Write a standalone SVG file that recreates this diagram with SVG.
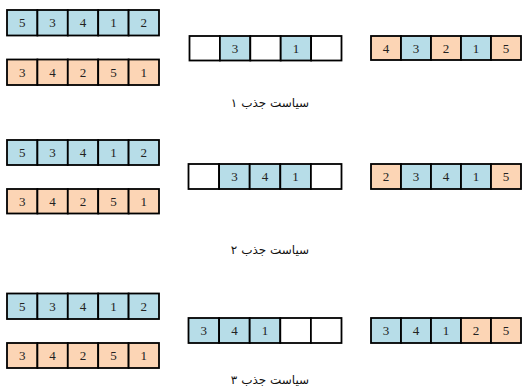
<svg xmlns="http://www.w3.org/2000/svg" width="522" height="388" viewBox="0 0 522 388">
<style>
rect{stroke:#000;stroke-width:1.8}
.b{fill:#b7dde8}
.o{fill:#fcd5b5}
.w{fill:#fff}
text{font-family:'Liberation Serif','Times New Roman',serif;font-size:13px;fill:#222;text-anchor:middle}
.lbl{font-family:'DejaVu Sans','Noto Sans',sans-serif;font-size:12px;fill:#111}
</style>
<rect width="522" height="388" style="fill:#fff;stroke:none"/>
<g id="row1-p1">
<rect class="b" x="7" y="10" width="30.4" height="25.5"/><rect class="b" x="37.4" y="10" width="30.4" height="25.5"/><rect class="b" x="67.8" y="10" width="30.4" height="25.5"/><rect class="b" x="98.2" y="10" width="30.4" height="25.5"/><rect class="b" x="128.6" y="10" width="30.4" height="25.5"/>
<text x="22.2" y="27">5</text><text x="52.6" y="27">3</text><text x="83" y="27">4</text><text x="113.4" y="27">1</text><text x="143.8" y="27">2</text>
</g>
<g id="row1-p2">
<rect class="o" x="7" y="59.5" width="30.4" height="25.5"/><rect class="o" x="37.4" y="59.5" width="30.4" height="25.5"/><rect class="o" x="67.8" y="59.5" width="30.4" height="25.5"/><rect class="o" x="98.2" y="59.5" width="30.4" height="25.5"/><rect class="o" x="128.6" y="59.5" width="30.4" height="25.5"/>
<text x="22.2" y="76.5">3</text><text x="52.6" y="76.5">4</text><text x="83" y="76.5">2</text><text x="113.4" y="76.5">5</text><text x="143.8" y="76.5">1</text>
</g>
<g id="row1-mid">
<rect class="w" x="189.5" y="36" width="30.4" height="24.5"/><rect class="b" x="219.9" y="36" width="30.4" height="24.5"/><rect class="w" x="250.3" y="36" width="30.4" height="24.5"/><rect class="b" x="280.7" y="36" width="30.4" height="24.5"/><rect class="w" x="311.1" y="36" width="30.4" height="24.5"/>
<text x="235.1" y="52.5">3</text><text x="295.9" y="52.5">1</text>
</g>
<g id="row1-child">
<rect class="o" x="371" y="36" width="30" height="24"/><rect class="b" x="401" y="36" width="30" height="24"/><rect class="o" x="431" y="36" width="30" height="24"/><rect class="b" x="461" y="36" width="30" height="24"/><rect class="o" x="491" y="36" width="30" height="24"/>
<text x="386" y="52.5">4</text><text x="416" y="52.5">3</text><text x="446" y="52.5">2</text><text x="476" y="52.5">1</text><text x="506" y="52.5">5</text>
</g>
<text class="lbl" x="270" y="107">سیاست جذب ۱</text>

<g id="row2-p1">
<rect class="b" x="7" y="140" width="30.4" height="25"/><rect class="b" x="37.4" y="140" width="30.4" height="25"/><rect class="b" x="67.8" y="140" width="30.4" height="25"/><rect class="b" x="98.2" y="140" width="30.4" height="25"/><rect class="b" x="128.6" y="140" width="30.4" height="25"/>
<text x="22.2" y="156.5">5</text><text x="52.6" y="156.5">3</text><text x="83" y="156.5">4</text><text x="113.4" y="156.5">1</text><text x="143.8" y="156.5">2</text>
</g>
<g id="row2-p2">
<rect class="o" x="7" y="189" width="30.4" height="24.5"/><rect class="o" x="37.4" y="189" width="30.4" height="24.5"/><rect class="o" x="67.8" y="189" width="30.4" height="24.5"/><rect class="o" x="98.2" y="189" width="30.4" height="24.5"/><rect class="o" x="128.6" y="189" width="30.4" height="24.5"/>
<text x="22.2" y="205.5">3</text><text x="52.6" y="205.5">4</text><text x="83" y="205.5">2</text><text x="113.4" y="205.5">5</text><text x="143.8" y="205.5">1</text>
</g>
<g id="row2-mid">
<rect class="w" x="188.5" y="164" width="30.6" height="25"/><rect class="b" x="219.1" y="164" width="30.6" height="25"/><rect class="b" x="249.7" y="164" width="30.6" height="25"/><rect class="b" x="280.3" y="164" width="30.6" height="25"/><rect class="w" x="310.9" y="164" width="30.6" height="25"/>
<text x="234.4" y="180.5">3</text><text x="265" y="180.5">4</text><text x="295.6" y="180.5">1</text>
</g>
<g id="row2-child">
<rect class="o" x="371" y="164" width="30" height="25"/><rect class="b" x="401" y="164" width="30" height="25"/><rect class="b" x="431" y="164" width="30" height="25"/><rect class="b" x="461" y="164" width="30" height="25"/><rect class="o" x="491" y="164" width="30" height="25"/>
<text x="386" y="180.5">2</text><text x="416" y="180.5">3</text><text x="446" y="180.5">4</text><text x="476" y="180.5">1</text><text x="506" y="180.5">5</text>
</g>
<text class="lbl" x="270" y="254">سیاست جذب ۲</text>

<g id="row3-p1">
<rect class="b" x="7" y="293.5" width="30.4" height="25.5"/><rect class="b" x="37.4" y="293.5" width="30.4" height="25.5"/><rect class="b" x="67.8" y="293.5" width="30.4" height="25.5"/><rect class="b" x="98.2" y="293.5" width="30.4" height="25.5"/><rect class="b" x="128.6" y="293.5" width="30.4" height="25.5"/>
<text x="22.2" y="310.5">5</text><text x="52.6" y="310.5">3</text><text x="83" y="310.5">4</text><text x="113.4" y="310.5">1</text><text x="143.8" y="310.5">2</text>
</g>
<g id="row3-p2">
<rect class="o" x="7" y="343" width="30.4" height="25"/><rect class="o" x="37.4" y="343" width="30.4" height="25"/><rect class="o" x="67.8" y="343" width="30.4" height="25"/><rect class="o" x="98.2" y="343" width="30.4" height="25"/><rect class="o" x="128.6" y="343" width="30.4" height="25"/>
<text x="22.2" y="359.5">3</text><text x="52.6" y="359.5">4</text><text x="83" y="359.5">2</text><text x="113.4" y="359.5">5</text><text x="143.8" y="359.5">1</text>
</g>
<g id="row3-mid">
<rect class="b" x="188.5" y="318" width="30.6" height="25"/><rect class="b" x="219.1" y="318" width="30.6" height="25"/><rect class="b" x="249.7" y="318" width="30.6" height="25"/><rect class="w" x="280.3" y="318" width="30.6" height="25"/><rect class="w" x="310.9" y="318" width="30.6" height="25"/>
<text x="203.8" y="334.5">3</text><text x="234.4" y="334.5">4</text><text x="265" y="334.5">1</text>
</g>
<g id="row3-child">
<rect class="b" x="371" y="318" width="30" height="25"/><rect class="b" x="401" y="318" width="30" height="25"/><rect class="b" x="431" y="318" width="30" height="25"/><rect class="o" x="461" y="318" width="30" height="25"/><rect class="o" x="491" y="318" width="30" height="25"/>
<text x="386" y="334.5">3</text><text x="416" y="334.5">4</text><text x="446" y="334.5">1</text><text x="476" y="334.5">2</text><text x="506" y="334.5">5</text>
</g>
<text class="lbl" x="270" y="384">سیاست جذب ۳</text>
</svg>
